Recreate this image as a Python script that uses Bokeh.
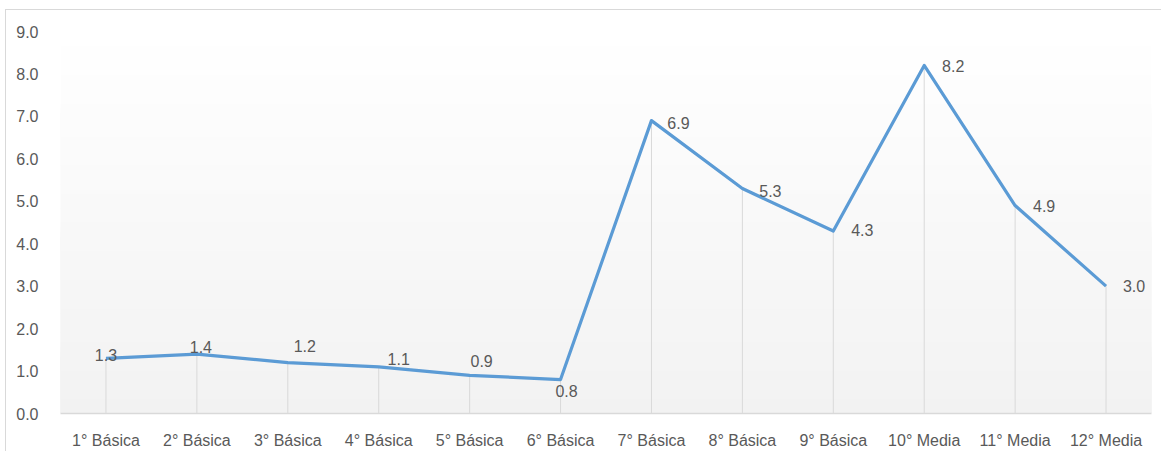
from bokeh.plotting import figure
from bokeh.models import Range1d, FixedTicker, ColumnDataSource, PrintfTickFormatter
from bokeh.embed import file_html
from bokeh.resources import INLINE
from bokeh.core.properties import value

categories = ["1° Básica", "2° Básica", "3° Básica", "4° Básica", "5° Básica", "6° Básica",
              "7° Básica", "8° Básica", "9° Básica", "10° Media", "11° Media", "12° Media"]
values = [1.3, 1.4, 1.2, 1.1, 0.9, 0.8, 6.9, 5.3, 4.3, 8.2, 4.9, 3.0]
y_ticks = [0, 1, 2, 3, 4, 5, 6, 7, 8, 9]

# label placement (screen pixel offsets from each point)
label_dx = [0, 4, 17, 20, 12, 6, 27, 28, 29, 29, 29, 28]
label_dy = [-3, -7, -17, -8, -14, 11, 2, 2, -1, 1, 0, 0]

FONT = "Liberation Sans"
FS = "16px"
TXT = "#595959"
GRID = "#d9d9d9"

xs = list(range(len(categories)))
src = ColumnDataSource(dict(x=xs, y=values, zero=[0] * len(values),
                            lbl=[f"{v:.1f}" for v in values], dx=label_dx, dy=label_dy))

p = figure(width=1156, height=442, output_backend="svg", toolbar_location=None,
           x_range=Range1d(-0.5, len(categories) - 0.5), y_range=Range1d(0, 9),
           min_border_left=54, min_border_right=11, min_border_top=21, min_border_bottom=39)
p.styles = {"margin-left": "5px", "margin-top": "9px",
            "border-top": "1px solid #d9d9d9", "border-left": "1px solid #d9d9d9"}
p.outline_line_color = None
p.background_fill_color = "white"
p.border_fill_color = "white"
p.xgrid.visible = False
p.ygrid.visible = False

# gradient plot-area background (white at top to light gray at bottom)
n = 80
step = 9 / n
for k in range(n):
    top = 9 - k * step
    t = (top - step / 2) / 9
    c = int(round(242 + 13 * t))
    p.quad(left=-0.5, right=len(categories) - 0.5, bottom=0, top=top,
           fill_color=f"#{c:02x}{c:02x}{c:02x}", line_color=None, level="underlay")

p.segment(x0="x", y0="zero", x1="x", y1="y", source=src, line_color=GRID, line_width=1)
p.line(x="x", y="y", source=src, line_color="#5b9bd5", line_width=3.2, line_join="round")
p.text(x="x", y="y", text="lbl", source=src, x_offset="dx", y_offset="dy",
       text_align="center", text_baseline="middle", text_color=TXT,
       text_font=value(FONT), text_font_size=FS)

p.xaxis.ticker = FixedTicker(ticks=xs)
p.xaxis.major_label_overrides = {i: c for i, c in enumerate(categories)}
p.xaxis.axis_line_color = GRID
p.xaxis.axis_line_width = 1.5
p.xaxis.major_tick_line_color = None
p.xaxis.minor_tick_line_color = None
p.xaxis.major_label_standoff = 12
p.xaxis.major_label_text_font = FONT
p.xaxis.major_label_text_font_size = FS
p.xaxis.major_label_text_color = TXT

p.yaxis.ticker = FixedTicker(ticks=y_ticks)
p.yaxis.formatter = PrintfTickFormatter(format="%.1f")
p.yaxis.axis_line_color = None
p.yaxis.major_tick_line_color = None
p.yaxis.minor_tick_line_color = None
p.yaxis.major_label_standoff = 16
p.yaxis.major_label_text_font = FONT
p.yaxis.major_label_text_font_size = FS
p.yaxis.major_label_text_color = TXT

open("out.html", "w").write(file_html(p, INLINE))
